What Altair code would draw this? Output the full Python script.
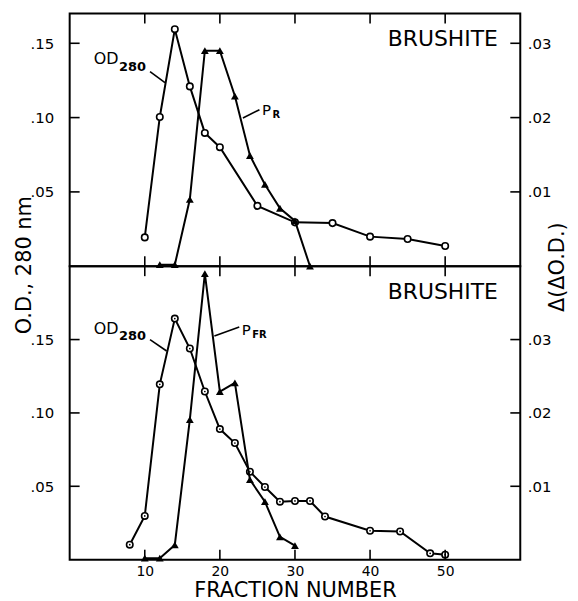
import altair as alt
import pandas as pd

# ---------------- data ----------------
top_od_x = [10, 12, 14, 16, 18, 20, 25, 30, 35, 40, 45, 50]
top_od_y = [0.0194, 0.1004, 0.1595, 0.1210, 0.0897, 0.0801, 0.0406, 0.0295, 0.0290, 0.0199, 0.0183, 0.0136]

top_p_x = [12, 14, 16, 18, 20, 22, 24, 26, 28, 30, 32]
top_p_y = [0.0002, 0.0002, 0.0090, 0.0290, 0.0290, 0.0229, 0.0149, 0.0110, 0.0078, 0.0061, 0.0]

bot_od_x = [8, 10, 12, 14, 16, 18, 20, 22, 24, 26, 28, 30, 32, 34, 40, 44, 48, 50]
bot_od_y = [0.0102, 0.0298, 0.1195, 0.1643, 0.1439, 0.1146, 0.0890, 0.0795, 0.0599, 0.0495,
            0.0395, 0.0400, 0.0400, 0.0294, 0.0197, 0.0192, 0.0043, 0.0034]

bot_p_x = [10, 12, 14, 16, 18, 20, 22, 24, 26, 28, 30]
bot_p_y = [0.0002, 0.0002, 0.0020, 0.0191, 0.0390, 0.0229, 0.0241, 0.0109, 0.0079, 0.0031, 0.0019]

x_ticks = [10, 20, 30, 40, 50]
left_ticks = [0.05, 0.10, 0.15]
right_ticks = [0.01, 0.02, 0.03]

FONT = "DejaVu Sans"
W = 453
H1 = 254
H2 = 295


def xenc(field, show_labels):
    if show_labels:
        ax = alt.Axis(values=x_ticks, ticks=False, domain=False, grid=False,
                      labelFontSize=14, labelFont=FONT, labelColor="black",
                      labelPadding=5, title="FRACTION NUMBER", titleFont=FONT,
                      titleFontSize=21, titleFontWeight="normal", titleColor="black",
                      titlePadding=1)
    else:
        ax = alt.Axis(labels=False, ticks=False, domain=False, grid=False, title=None)
    return alt.X(field, type="quantitative", scale=alt.Scale(domain=[0, 60], nice=False), axis=ax)


LABEL_EXPR = "replace(format(datum.value, '.2f'), '0.', '.')"


def panel(od_x, od_y, p_x, p_y, H, ldom, rdom, ann, show_x, dotted):
    od = pd.DataFrame({"x": od_x, "y": od_y})
    pp = pd.DataFrame({"x": p_x, "y": p_y})
    yl_axis = alt.Axis(values=left_ticks, labelExpr=LABEL_EXPR, ticks=False, domain=False,
                       grid=False, title=None, labelFontSize=15, labelFont=FONT,
                       labelColor="black", labelPadding=16)
    yr_axis = alt.Axis(values=right_ticks, labelExpr=LABEL_EXPR, ticks=False, domain=False,
                       grid=False, title=None, labelFontSize=15, labelFont=FONT,
                       labelColor="black", labelPadding=7, orient="right")
    yl = lambda f: alt.Y(f, type="quantitative", scale=alt.Scale(domain=ldom, nice=False), axis=yl_axis)
    yr = lambda f: alt.Y(f, type="quantitative", scale=alt.Scale(domain=rdom, nice=False), axis=yr_axis)

    od_line = alt.Chart(od).mark_line(color="black", strokeWidth=2).encode(x=xenc("x", show_x), y=yl("y"))
    od_pts = alt.Chart(od).mark_point(shape="circle", filled=True, fill="white", stroke="black",
                                      strokeWidth=1.6, size=42, opacity=1).encode(x=xenc("x", show_x), y=yl("y"))
    left_layers = [od_line, od_pts]
    if dotted:
        left_layers.append(alt.Chart(od).mark_point(shape="circle", filled=True, color="black",
                                                    size=3, opacity=1).encode(x=xenc("x", show_x), y=yl("y")))
    # annotation texts
    for r in ann["texts"]:
        left_layers.append(
            alt.Chart(pd.DataFrame({"x": [r["x"]], "y": [r["y"]], "t": [r["t"]]}))
            .mark_text(font=FONT, fontSize=r["size"], align=r["align"], baseline="alphabetic",
                       color="black", fontWeight=r["weight"])
            .encode(x=xenc("x", show_x), y=yl("y"), text="t:N"))
    ldf = pd.DataFrame(ann["leaders"])
    left_layers.append(alt.Chart(ldf).mark_rule(color="black", strokeWidth=1.6).encode(
        x=xenc("x", show_x), y=yl("y"), x2="x2:Q", y2="y2:Q"))
    # inward ticks
    xt = pd.DataFrame({"x": x_ticks})
    left_layers.append(alt.Chart(xt).mark_rule(color="black", strokeWidth=1.6).encode(
        x=xenc("x", show_x), y=alt.value(0), y2=alt.value(10)))
    left_layers.append(alt.Chart(xt).mark_rule(color="black", strokeWidth=1.6).encode(
        x=xenc("x", show_x), y=alt.value(H - 10), y2=alt.value(H)))
    lt = pd.DataFrame({"y": left_ticks})
    left_layers.append(alt.Chart(lt).mark_rule(color="black", strokeWidth=1.6).encode(
        y=yl("y"), x=alt.value(0), x2=alt.value(10)))

    rt = pd.DataFrame({"y": right_ticks})
    p_line = alt.Chart(pp).mark_line(color="black", strokeWidth=2).encode(x=xenc("x", show_x), y=yr("y"))
    p_pts = alt.Chart(pp).mark_point(shape="triangle-up", filled=True, color="black", size=62,
                                     opacity=1).encode(x=xenc("x", show_x), y=yr("y"))
    r_ticks = alt.Chart(rt).mark_rule(color="black", strokeWidth=1.6).encode(
        y=yr("y"), x=alt.value(W - 10), x2=alt.value(W))
    right_layers = [p_line, p_pts, r_ticks]

    if ann.get("titles"):
        left_layers.append(alt.Chart(pd.DataFrame({"t": ["O.D., 280 nm"]})).mark_text(
            font=FONT, fontSize=21, angle=270, align="center", baseline="middle", color="black")
            .encode(x=alt.value(-44.5), y=alt.value(H - 1), text="t:N"))
        right_layers.append(alt.Chart(pd.DataFrame({"t": ["\u0394(\u0394O.D.)"]})).mark_text(
            font=FONT, fontSize=21, angle=270, align="center", baseline="middle", color="black")
            .encode(x=alt.value(W + 38), y=alt.value(H + 1), text="t:N"))

    return alt.layer(alt.layer(*left_layers), alt.layer(*right_layers)).resolve_scale(
        y="independent").properties(width=W, height=H)


top_ann = {
    "texts": [
        {"x": 6.49, "y": 0.1360, "t": "OD", "size": 16, "align": "right", "weight": "normal"},
        {"x": 6.58, "y": 0.1315, "t": "280", "size": 13, "align": "left", "weight": "bold"},
        {"x": 26.82, "y": 0.1019, "t": "P", "size": 15, "align": "right", "weight": "normal"},
        {"x": 27.02, "y": 0.0997, "t": "R", "size": 10, "align": "left", "weight": "bold"},
        {"x": 57.02, "y": 0.1480, "t": "BRUSHITE", "size": 22, "align": "right", "weight": "normal"},
    ],
    "leaders": [
        {"x": 10.70, "y": 0.1310, "x2": 12.69, "y2": 0.1236},
        {"x": 23.07, "y": 0.0997, "x2": 25.27, "y2": 0.1053},
    ],
    "titles": True,
}
bot_ann = {
    "texts": [
        {"x": 6.49, "y": 0.1540, "t": "OD", "size": 16, "align": "right", "weight": "normal"},
        {"x": 6.58, "y": 0.1500, "t": "280", "size": 13, "align": "left", "weight": "bold"},
        {"x": 24.10, "y": 0.1532, "t": "P", "size": 15, "align": "right", "weight": "normal"},
        {"x": 24.30, "y": 0.1512, "t": "FR", "size": 10, "align": "left", "weight": "bold"},
        {"x": 57.02, "y": 0.1775, "t": "BRUSHITE", "size": 22, "align": "right", "weight": "normal"},
    ],
    "leaders": [
        {"x": 10.70, "y": 0.1500, "x2": 12.91, "y2": 0.1422},
        {"x": 19.27, "y": 0.1525, "x2": 22.58, "y2": 0.1586},
    ],
}

top = panel(top_od_x, top_od_y, top_p_x, top_p_y, H1, [0, 0.17], [0, 0.034], top_ann, False, False)
bot = panel(bot_od_x, bot_od_y, bot_p_x, bot_p_y, H2, [0, 0.20], [0, 0.040], bot_ann, True, True)

chart = alt.vconcat(top, bot, spacing=0, bounds="flush").properties(
    padding={"left": 5, "top": 2, "right": 0, "bottom": 0},
    background="white",
).configure_view(stroke="black", strokeWidth=2)

chart.save("out.html", embed_options={"renderer": "svg", "actions": False})
